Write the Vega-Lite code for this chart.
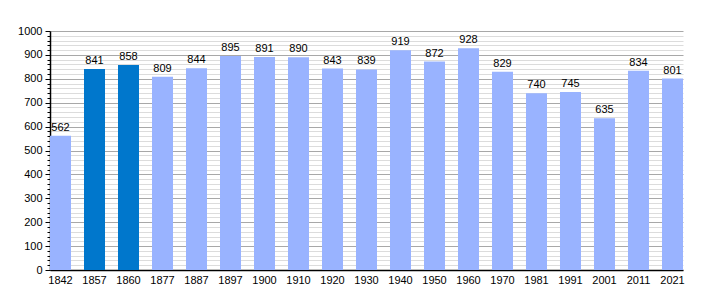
{
  "$schema": "https://vega.github.io/schema/vega-lite/v6.json",
  "width": 633,
  "height": 239,
  "autosize": {"type": "none"},
  "padding": {"left": 50, "top": 31, "right": 27, "bottom": 30},
  "background": "white",
  "config": {
    "view": {"stroke": null},
    "font": "Liberation Sans",
    "axis": {"labelFont": "Liberation Sans", "labelFontSize": 11, "labelColor": "#000", "domainColor": "#000", "tickColor": "#000"}
  },
  "data": {
    "values": [
      {"year": "1842", "pop": 562},
      {"year": "1857", "pop": 841},
      {"year": "1860", "pop": 858},
      {"year": "1877", "pop": 809},
      {"year": "1887", "pop": 844},
      {"year": "1897", "pop": 895},
      {"year": "1900", "pop": 891},
      {"year": "1910", "pop": 890},
      {"year": "1920", "pop": 843},
      {"year": "1930", "pop": 839},
      {"year": "1940", "pop": 919},
      {"year": "1950", "pop": 872},
      {"year": "1960", "pop": 928},
      {"year": "1970", "pop": 829},
      {"year": "1981", "pop": 740},
      {"year": "1991", "pop": 745},
      {"year": "2001", "pop": 635},
      {"year": "2011", "pop": 834},
      {"year": "2021", "pop": 801}
    ]
  },
  "encoding": {
    "x": {
      "field": "year", "type": "ordinal", "sort": null,
      "scale": {"paddingInner": 0.382, "paddingOuter": 0},
      "axis": {"title": null, "labelAngle": 0, "ticks": false, "labelPadding": 4, "domainWidth": 1.5}
    },
    "y": {
      "field": "pop", "type": "quantitative",
      "scale": {"domain": [0, 1000], "nice": false},
      "axis": {
        "title": null,
        "format": "d",
        "values": [0,20,40,60,80,100,120,140,160,180,200,220,240,260,280,300,320,340,360,380,400,420,440,460,480,500,520,540,560,580,600,620,640,660,680,700,720,740,760,780,800,820,840,860,880,900,920,940,960,980,1000],
        "labelExpr": "datum.value % 100 === 0 ? datum.label : ''",
        "grid": true,
        "gridColor": {"condition": {"test": "datum.value % 100 === 0", "value": "#a8a8a8"}, "value": "#dcdcdc"},
        "tickSize": {"condition": {"test": "datum.value % 100 === 0", "value": 5}, "value": 3},
        "labelPadding": 3,
        "labelBound": false,
        "labelOverlap": false,
        "domainWidth": 1.5
      }
    }
  },
  "layer": [
    {
      "mark": {"type": "bar"},
      "encoding": {
        "color": {
          "condition": {"test": "datum.year === '1857' || datum.year === '1860'", "value": "#0077cc"},
          "value": "#99b3ff"
        }
      }
    },
    {
      "mark": {"type": "text", "baseline": "bottom", "dy": -3, "fontSize": 11, "color": "#000", "font": "Liberation Sans"},
      "encoding": {"text": {"field": "pop", "type": "quantitative", "format": "d"}}
    }
  ]
}
